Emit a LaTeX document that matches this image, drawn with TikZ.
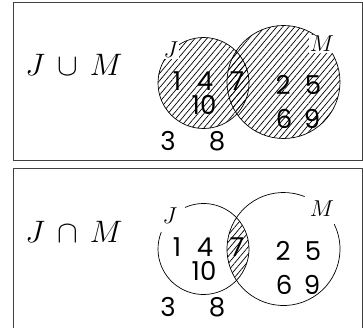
\RequirePackage{fix-cm}
\documentclass[tikz,border=0pt]{standalone}
\usepackage{fontspec}
\newfontfamily\numfont{Poppins}
\usetikzlibrary{patterns.meta}
\begin{document}
\begin{tikzpicture}[x=1pt,y=-1pt,
  frame/.style={draw=black!75, line width=1pt},
  ring/.style={draw=black, line width=0.7pt},
  hatch/.style={pattern={Lines[angle=50,distance=4.6pt,line width=0.7pt]}},
  num/.style={font=\numfont\fontsize{26}{26}\selectfont, inner sep=0pt},
  setname/.style={font=\fontsize{23}{23}\selectfont, inner sep=1pt},
  title/.style={font=\fontsize{31}{31}\selectfont, inner sep=0pt, anchor=base}]
\useasboundingbox (0,0) rectangle (363,328);
\clip (0,0) rectangle (363,328);

% ---------- union panel ----------
\draw[frame] (13,3) rectangle (362,161);
\node[title] (union) at (74,76) {$J\,\cup\,M$};
\coordinate (J1) at (203.5,83);
\coordinate (M1) at (283.5,82);
\fill[hatch] (J1) circle[radius=45.5];
\fill[hatch] (M1) circle[radius=56.5];
\draw[ring] (J1) circle[radius=45.5];
\draw[ring] (M1) circle[radius=56.5];
\node[setname, fill=white] (jlab1) at (171,50) {$J$};
\node[setname, fill=white] (mlab1) at (322,44) {$M$};
\node[num] (a1) at (177,81) {1};
\node[num] (a4) at (205,81) {4};
\node[num] (a10) at (204,105) {10};
\node[num] (a7) at (237,81) {7};
\node[num] (a2) at (283,85) {2};
\node[num] (a5) at (313,85) {5};
\node[num] (a6) at (284,119) {6};
\node[num] (a9) at (312,119) {9};
\node[num] (a3) at (168,141) {3};
\node[num] (a8) at (217,141) {8};

% ---------- intersection panel ----------
\draw[frame] (13,169) rectangle (362,340);
\node[title] (inter) at (74,242) {$J\,\cap\,M$};
\coordinate (J2) at (203.5,249);
\coordinate (M2) at (283.5,249);
\begin{scope}
  \clip (J2) circle[radius=45.5];
  \fill[hatch] (M2) circle[radius=56.5];
\end{scope}
\draw[ring] (J2) ++(-114:45.5) arc[start angle=-114, end angle=202, radius=45.5];
\draw[ring] (M2) ++(-26:56.5) arc[start angle=-26, end angle=292, radius=56.5];
\node[setname] (jlab2) at (170,216) {$J$};
\node[setname] (mlab2) at (322,209) {$M$};
\node[num] (b1) at (177,247) {1};
\node[num] (b4) at (205,247) {4};
\node[num] (b10) at (204,271) {10};
\node[num] (b7) at (237,247) {7};
\node[num] (b2) at (283,251) {2};
\node[num] (b5) at (313,251) {5};
\node[num] (b6) at (284,285) {6};
\node[num] (b9) at (312,285) {9};
\node[num] (b3) at (168,307) {3};
\node[num] (b8) at (217,307) {8};
\end{tikzpicture}
\end{document}
